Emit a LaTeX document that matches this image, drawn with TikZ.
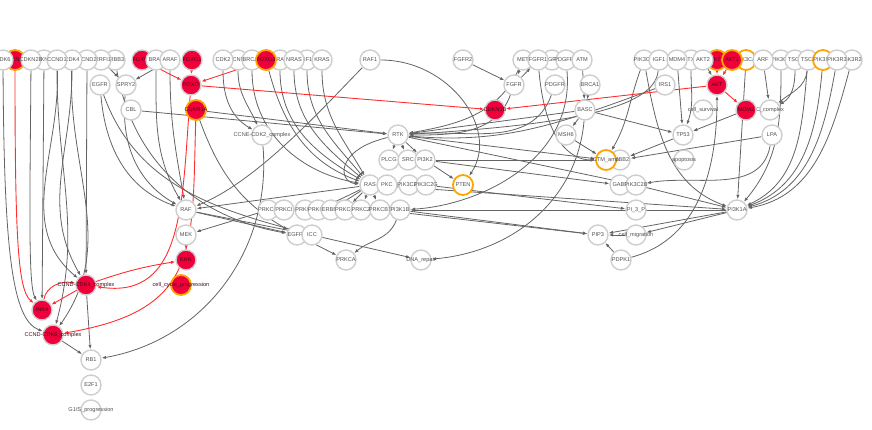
\documentclass[tikz,border=0pt]{standalone}
\usepackage{fontspec}
\setmainfont{Liberation Sans}
\usetikzlibrary{arrows.meta}
\definecolor{ndred}{RGB}{240,0,58}
\definecolor{ndgray}{RGB}{206,206,206}
\definecolor{ndorange}{RGB}{255,165,0}
\definecolor{edgegray}{RGB}{100,100,100}
\definecolor{edgered}{RGB}{255,45,45}
\definecolor{txt}{RGB}{80,80,80}
\definecolor{rdtxt}{RGB}{70,10,25}
\pgfdeclarelayer{bg}
\pgfsetlayers{bg,main}
\tikzset{
 nd/.style={circle, draw=ndgray, line width=1.4pt, fill=white, minimum size=20pt, inner sep=0pt,
   font=\fontsize{5.6}{6}\selectfont, text=txt},
 rd/.style={fill=ndred, text=rdtxt},
 og/.style={draw=ndorange, line width=1.8pt},
 ge/.style={draw=edgegray, line width=0.8pt, -{Latex[length=4.5pt,width=3.2pt]}},
 re/.style={draw=edgered, line width=0.9pt, -{Latex[length=4.5pt,width=3.2pt]}},
}
\newcommand\mynode[5][]{\node[nd,#1] (#2) at (#3,#4) {\makebox[0pt][c]{#5}};}
\newcommand\rdnode[5][]{\node[nd,rd,#1] (#2) at (#3,#4) {};\node[font=\fontsize{5.6}{6}\selectfont, inner sep=0pt] at (#2) {\makebox[0pt][c]{\textcolor{rdtxt}{#5}}};}
\begin{document}
\begin{tikzpicture}[x=1pt,y=-1pt]
\useasboundingbox (0,0) rectangle (872,429);
% row 60 (drawing order chosen to match which labels are hidden)
\mynode{ERBBthree}{115}{60}{ERBB3}
\mynode{ERRFIone}{101}{60}{ERRFI1}
\mynode{CCNDtwo}{87}{60}{CCND2}
\mynode{CDKfour}{72}{60}{CDK4}
\mynode{CDKNtwoC}{44}{60}{CDKN2C}
\rdnode[og]{CDKNtwoA}{15}{60}{CDKN2A}
\mynode{CDKNtwoB}{31}{60}{CDKN2B}
\mynode{CCNDone}{57}{60}{CCND1}
\mynode{CDKsix}{3}{60}{CDK6}
\rdnode{FOXOfour}{142}{60}{FOXO4}
\mynode{BRAF}{156}{60}{BRAF}
\mynode{ARAF}{170}{60}{ARAF}
\rdnode{FOXOone}{192}{60}{FOXO1}
\mynode{CCNEone}{238}{60}{CCNE1}
\mynode{CDKtwo}{223}{60}{CDK2}
\mynode{BRCAtwo}{252}{60}{BRCA2}
\mynode{HRAS}{280}{60}{HRAS}
\rdnode[og]{FOXOthree}{266}{60}{FOXO3}
\mynode{NFone}{307}{60}{NF1}
\mynode{NRAS}{294}{60}{NRAS}
\mynode{KRAS}{322}{60}{KRAS}
\mynode{RAFone}{370}{60}{RAF1}
\mynode{FGFRtwo}{463}{60}{FGFR2}
\mynode{MET}{523}{60}{MET}
\mynode{PDGFRA}{552}{60}{PDGFRA}
\mynode{FGFRone}{538}{60}{FGFR1}
\mynode{PDGFRB}{566}{60}{PDGFRB}
\mynode{ATM}{582}{60}{ATM}
\mynode{PIKthreeCG}{644}{60}{PIK3CG}
\mynode{IGFone}{659}{60}{IGF1}
\mynode{TX}{691}{60}{TX}
\mynode{MDMfour}{677}{60}{MDM4}
\rdnode[og]{AKTthree}{717}{60}{AKT3}
\mynode{AKTtwo}{703}{60}{AKT2}
\mynode[og]{PIKthreeCA}{746}{60}{PIK3CA}
\rdnode[og]{AKTone}{732}{60}{AKT1}
\mynode{PIKthreeCB}{781}{60}{PIK3CB}
\mynode{ARF}{763}{60}{ARF}
\mynode{TSCone}{795}{60}{TSC1}
\mynode{TSCtwo}{808}{60}{TSC2}
\mynode[og]{PIKthreeRone}{823}{60}{PIK3R1}
\mynode{PIKthreeRtwo}{852}{60}{PIK3R2}
\mynode{PIKthreeRthree}{837}{60}{PIK3R3}
% row 85
\mynode{EGFR}{100}{85}{EGFR}
\mynode{SPRYtwo}{126}{85}{SPRY2}
\rdnode{FOXO}{191}{85}{FOXO}
\mynode{FGFR}{514}{85}{FGFR}
\mynode{PDGFR}{555}{85}{PDGFR}
\mynode{BRCAone}{590}{85}{BRCA1}
\mynode{IRSone}{665}{85}{IRS1}
\rdnode{AKT}{717}{85}{AKT}
% row 110
\mynode{CBL}{131}{110}{CBL}
\rdnode[og]{CDKNoneA}{196}{110}{CDKN1A}
\rdnode{CDKNoneB}{495}{110}{CDKN1B}
\mynode{BASC}{585}{110}{BASC}
\mynode{cellsurv}{703}{110}{cell\_survival}
\mynode{MDMtwoC}{770}{110}{C\_complex}
\rdnode{MDMtwo}{746}{110}{MDM2}
% row 135
\mynode{CCNECDKtwo}{262}{135}{CCNE-CDK2\_complex}
\mynode{RTK}{398}{135}{RTK}
\mynode{MSHsix}{566}{135}{MSH6}
\mynode{TPfiftythree}{683}{135}{TP53}
\mynode{LPA}{772}{135}{LPA}
% row 160
\mynode{PLCG}{389}{160}{PLCG}
\mynode{SRC}{408}{160}{SRC}
\mynode{PIthreeKtwo}{425}{160}{PI3K2}
\mynode{ERBBtwo}{620}{160}{ERBB2}
\mynode[og]{CTM}{606}{160}{CTM\_amp}
\mynode{apoptosis}{684}{160}{apoptosis}
% row 185
\mynode{RAS}{370}{185}{RAS}
\mynode{PKC}{387}{185}{PKC}
\mynode{PIKthreeCtwoA}{409}{185}{PIK3C2A}
\mynode{PIKthreeCtwoG}{426}{185}{PIK3C2G}
\mynode[og]{PTEN}{463}{185}{PTEN}
\mynode{GABone}{620}{185}{GAB1}
\mynode{PIKthreeCtwoB}{636}{185}{PIK3C2B}
% row 210
\mynode{RAF}{186}{210}{RAF}
\mynode{PRKCD}{268}{210}{PRKCD}
\mynode{PRKCI}{284}{210}{PRKCI}
\mynode{PRKCE}{305}{210}{PRKCE}
\mynode{PRKCG}{318}{210}{PRKCG}
\mynode{ERBBfour}{331}{210}{ERBB4}
\mynode{PRKCH}{345}{210}{PRKCH}
\mynode{PRKCZ}{361}{210}{PRKCZ}
\mynode{PRKCBone}{380}{210}{PRKCB1}
\mynode{PIthreeKoneB}{400}{210}{PI3K1B}
\mynode{PIthreeP}{636}{210}{PI\_3\_P}
\mynode{PIthreeKoneA}{737}{210}{PI3K1A}
% row 235
\mynode{MEK}{186}{235}{MEK}
\mynode{EGFRF}{297}{235}{EGFRF}
\mynode{ICC}{312}{235}{ICC}
\mynode{PIPthree}{598}{235}{PIP3}
\mynode{cellmig}{636}{235}{cell\_migration}
% row 260
\rdnode{ERK}{186}{260}{ERK}
\mynode{PRKCA}{346}{260}{PRKCA}
\mynode{DNArep}{421}{260}{DNA\_repair}
\mynode{PDPKone}{621}{260}{PDPK1}
% lower left
\rdnode{CCNDCDKfour}{86}{285}{CCND-CDK4\_complex}
\rdnode[og]{cellcycle}{181}{285}{cell\_cycle\_progression}
\rdnode{INKfour}{42}{310}{INK4}
\rdnode{CCNDCDKsix}{53}{335}{CCND-CDK6\_complex}
\mynode{RBone}{91}{360}{RB1}
\mynode{EtwoFone}{91}{385}{E2F1}
\mynode{GoneS}{91}{410}{G1/S\_progression}

\begin{pgfonlayer}{bg}
% left cell-cycle block
\draw[ge] (CDKsix) .. controls (4,250) and (12,320) .. (CCNDCDKsix);
\draw[ge] (CDKNtwoB) .. controls (30,200) and (28,285) .. (INKfour);
\draw[ge] (CDKNtwoC) -- (INKfour);
\draw[ge] (CCNDone) to[out=-90,in=75] (CCNDCDKsix);
\draw[ge] (CCNDone) to[out=-88,in=140] (CCNDCDKfour);
\draw[ge] (CDKfour) to[out=-90,in=120] (CCNDCDKfour);
\draw[ge] (CDKfour) to[out=-92,in=55] (CCNDCDKsix);
\draw[ge] (CCNDtwo) -- (CCNDCDKfour);
\draw[ge] (CCNDCDKfour) -- (RBone);
\draw[ge] (CCNDCDKsix) -- (RBone);
\draw[ge] (CCNECDKtwo) to[out=-85,in=10] (RBone);
% EGFR / RAF block
\draw[ge] (ERRFIone) -- (SPRYtwo);
\draw[ge] (ARAF) -- (SPRYtwo);
\draw[ge] (EGFR) to[out=-85,in=160] (RAF);
\draw[ge] (SPRYtwo) to[out=-95,in=150] (RAF);
\draw[ge] (BRAF) to[out=-90,in=120] (RAF);
\draw[ge] (ARAF) to[out=-90,in=100] (RAF);
\draw[ge] (ERBBthree) to[out=-80,in=170] (EGFRF);
\draw[ge] (EGFR) to[out=-70,in=165] (ICC);
\draw[ge] (CDKNoneA) to[out=-70,in=150] (EGFRF);
\draw[ge] (CBL) -- (RTK);
\draw[ge] (CDKNoneA) -- (RTK);
\draw[ge] (RAFone) .. controls (330,100) and (260,180) .. (RAF);
\draw[ge] (RAFone) .. controls (450,60) and (500,130) .. (PTEN);
\draw[ge] (RAS) -- (RAF);
\draw[ge] (RAF) -- (EGFRF);
\draw[ge] (RAF) -- (ICC);
\draw[ge] (PRKCD) -- (MEK);
\draw[ge] (MEK) -- (ERK);
% RAS block
\draw[ge] (CDKtwo) to[out=-90,in=150] (CCNECDKtwo);
\draw[ge] (CCNEone) to[out=-90,in=115] (CCNECDKtwo);
\draw[ge] (BRCAtwo) to[out=-90,in=170] (RAS);
\draw[ge] (FOXOthree) to[out=-75,in=160] (RAS);
\draw[ge] (HRAS) to[out=-90,in=150] (RAS);
\draw[ge] (NRAS) to[out=-90,in=140] (RAS);
\draw[ge] (NFone) to[out=-90,in=130] (RAS);
\draw[ge] (KRAS) to[out=-90,in=120] (RAS);
\draw[ge] (RTK) .. controls (335,150) and (338,182) .. (RAS);
\draw[ge] (RAS) -- (PRKCG);
\draw[ge] (RAS) -- (ERBBfour);
\draw[ge] (RAS) -- (PRKCH);
\draw[ge] (RAS) -- (PRKCZ);
\draw[ge] (RAS) -- (PRKCBone);
\draw[ge] (EGFRF) -- (PRKCA);
\draw[ge] (ICC) -- (DNArep);
\draw[ge] (PIthreeKoneB) to[out=-110,in=40] (PRKCA);
% RTK block
\draw[ge] (RTK) -- (PLCG);
\draw[ge] (RTK) -- (SRC);
\draw[ge] (RTK) -- (PIthreeKtwo);
\draw[ge] (RTK) -- (CTM);
\draw[ge] (PIthreeKtwo) -- (CTM);
\draw[ge] (PIthreeKtwo) -- (GABone);
\draw[ge] (PIthreeKtwo) -- (PTEN);
\draw[ge] (PIKthreeCtwoG) -- (PIthreeP);
\draw[ge] (RTK) -- (PIKthreeCtwoB);
\draw[ge] (RAS) -- (PIthreeKoneA);
\draw[ge] (PIthreeKoneB) -- (PIPthree);
\draw[ge] (PRKCBone) -- (PIPthree);
\draw[ge] (PIthreeKoneA) -- (PIthreeKoneB);
\draw[ge] (PIthreeP) -- (PIthreeKoneB);
\draw[ge] (PDGFRB) .. controls (575,160) and (480,205) .. (PIthreeKoneB);
\draw[ge] (FGFRtwo) -- (FGFR);
\draw[ge] (MET) -- (FGFR);
\draw[ge] (FGFR) -- (FGFRone);
\draw[ge] (FGFR) to[out=-110,in=0] (RTK);
\draw[ge] (PDGFR) to[out=-110,in=5] (RTK);
\draw[ge] (MET) to[out=-115,in=10] (RTK);
\draw[ge] (BASC) -- (RTK);
\draw[ge] (IRSone) to[out=200,in=-5] (RTK);
\draw[ge] (IGFone) .. controls (655,110) and (560,125) .. (RTK);
\draw[ge] (FGFRone) .. controls (545,140) and (570,160) .. (CTM);
\draw[ge] (PIKthreeCG) to[out=-110,in=60] (CTM);
\draw[ge] (ATM) -- (BASC);
\draw[ge] (BRCAone) -- (BASC);
\draw[ge] (BASC) -- (MSHsix);
\draw[ge] (MSHsix) -- (CTM);
\draw[ge] (BASC) to[out=-95,in=5] (DNArep);
% right block
\draw[ge] (BASC) -- (TPfiftythree);
\draw[ge] (MDMtwo) -- (TPfiftythree);
\draw[ge] (MDMfour) -- (TPfiftythree);
\draw[ge] (TX) to[out=-90,in=70] (TPfiftythree);
\draw[ge] (TPfiftythree) -- (ERBBtwo);
\draw[ge] (LPA) -- (ERBBtwo);
\draw[ge] (LPA) to[out=-100,in=10] (PIKthreeCtwoB);
\draw[ge] (ARF) -- (MDMtwoC);
\draw[ge] (TSCone) to[out=-90,in=30] (MDMtwoC);
\draw[ge] (TSCtwo) to[out=-95,in=40] (MDMtwoC);
\draw[ge] (AKTtwo) -- (AKT);
\draw[ge] (PIKthreeCA) -- (PIthreeKoneA);
\draw[ge] (PIKthreeCB) to[out=-90,in=50] (PIthreeKoneA);
\draw[ge] (TSCtwo) to[out=-95,in=25] (PIthreeKoneA);
\draw[ge] (PIKthreeRone) to[out=-95,in=20] (PIthreeKoneA);
\draw[ge] (PIKthreeRthree) to[out=-100,in=15] (PIthreeKoneA);
\draw[ge] (PIKthreeRtwo) to[out=-105,in=10] (PIthreeKoneA);
\draw[ge] (PIKthreeCG) to[out=-80,in=160] (PIthreeKoneA);
\draw[ge] (PIKthreeCtwoB) -- (PIthreeKoneA);
\draw[ge] (PIthreeP) -- (PIthreeKoneA);
\draw[ge] (PIthreeKoneA) -- (cellmig);
\draw[ge] (PIthreeKoneA) -- (PIPthree);
\draw[ge] (cellmig) -- (PIPthree);
\draw[ge] (PDPKone) -- (PIPthree);
\draw[ge] (PDPKone) to[out=15,in=-90] (AKT);
% red edges
\draw[re] (CDKNtwoA) .. controls (15,240) and (18,290) .. (INKfour);
\draw[re] (FOXOfour) -- (FOXO);
\draw[re] (FOXOone) -- (FOXO);
\draw[re] (FOXOthree) -- (FOXO);
\draw[re] (FOXO) -- (CDKNoneB);
\draw[re] (AKT) -- (CDKNoneB);
\draw[re] (AKTone) -- (AKT);
\draw[re] (AKTthree) -- (AKT);
\draw[re] (AKT) -- (MDMtwo);
\draw[re] (FOXO) .. controls (182,200) and (185,300) .. (CCNDCDKfour);
\draw[re] (CCNDCDKfour) to[bend left=5] (ERK);
\draw[re] (CDKNoneA) .. controls (192,250) and (200,310) .. (CCNDCDKsix);
\draw[re] (CCNDCDKfour) -- (INKfour);
\draw[re] (INKfour) to[out=80,in=170] (CCNDCDKfour);
\end{pgfonlayer}
\end{tikzpicture}
\end{document}
